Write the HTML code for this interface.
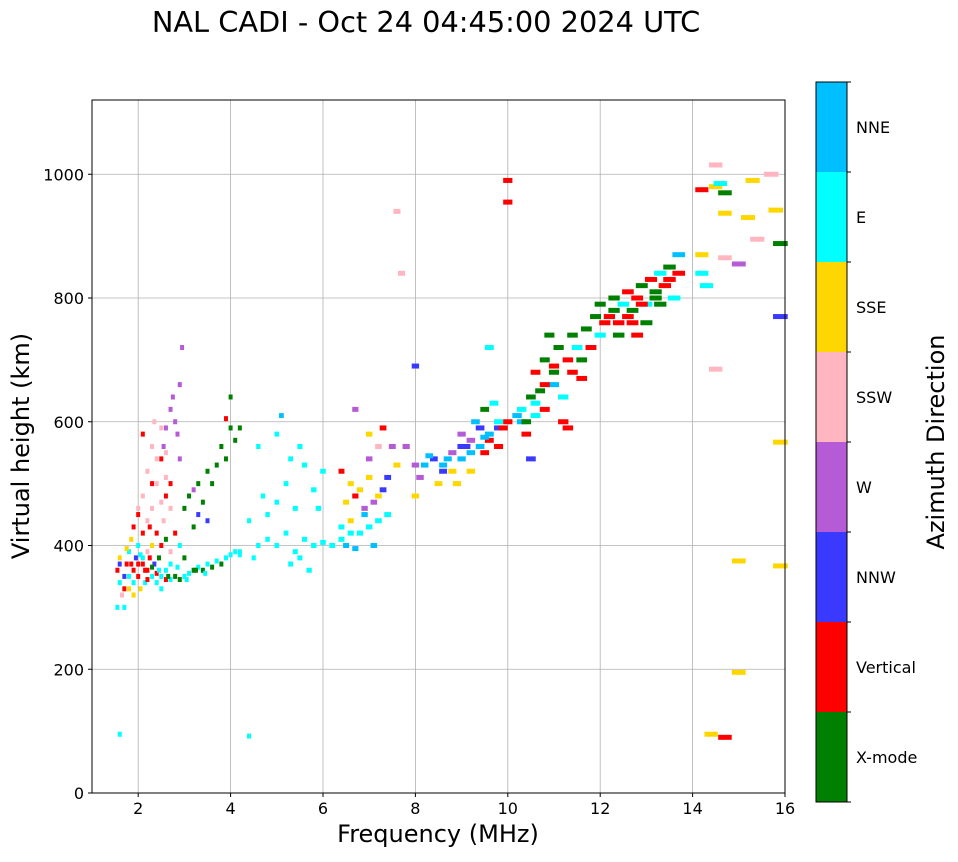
<!DOCTYPE html>
<html><head><meta charset="utf-8"><style>
body{margin:0;background:#fff;font-family:"Liberation Sans","DejaVu Sans",sans-serif;}
svg text{font-family:"DejaVu Sans","Liberation Sans",sans-serif;}
</style></head><body>
<svg id="chart" width="958" height="857" xmlns="http://www.w3.org/2000/svg">
<text x="426" y="32" font-size="28.8" text-anchor="middle">NAL CADI - Oct 24 04:45:00 2024 UTC</text>
<g id="grid"></g>
<g id="marks"></g>
<rect x="92" y="100" width="693" height="693" fill="none" stroke="#000" stroke-width="1"/>
<g id="axes"></g>
<text x="438" y="842" font-size="24" text-anchor="middle">Frequency (MHz)</text>
<text transform="translate(29,446) rotate(-90)" font-size="24" text-anchor="middle">Virtual height (km)</text>
<g id="cbar"></g>
<text transform="translate(944,442) rotate(-90)" font-size="24" text-anchor="middle">Azimuth Direction</text>
</svg>
<script>
const categories=["X-mode","Vertical","NNW","W","SSW","SSE","E","NNE"];
const catColors=["#008000","#ff0000","#3a3aff","#b55bd6","#ffb6c1","#ffd700","#00ffff","#00bfff"];
const xTicks=[2,4,6,8,10,12,14,16];
const yTicks=[0,200,400,600,800,1000];
const freqs=[1.55,1.6,1.6,1.65,1.7,1.55,1.7,1.75,1.8,1.8,1.85,1.9,1.9,1.95,2.0,2.0,2.05,2.1,2.1,2.15,2.2,2.2,2.25,2.3,2.3,2.35,2.4,2.4,2.45,2.5,2.5,2.55,2.6,2.6,2.7,2.7,2.8,2.8,2.9,2.9,3.0,3.0,3.1,3.2,3.3,3.4,3.5,3.6,3.7,3.8,3.9,4.0,4.1,4.2,
1.6,4.4,
2.1,2.2,2.3,2.3,2.4,2.4,2.5,2.5,2.6,2.2,2.0,2.7,2.6,2.1,2.35,
2.55,2.6,2.7,2.75,2.8,2.85,2.9,2.95,2.9,
2.0,2.3,2.5,1.9,2.6,2.7,
3.0,3.1,3.2,3.3,3.4,3.5,3.6,3.7,3.8,3.9,4.0,4.1,4.2,3.9,4.0,3.3,3.5,3.2,
4.2,4.5,4.6,4.8,5.0,5.2,5.4,5.5,5.6,5.8,6.0,6.2,6.4,6.6,6.8,7.0,7.2,7.4,4.8,5.0,5.2,5.4,5.6,5.8,6.0,5.3,4.6,5.0,5.5,5.1,5.3,5.7,6.5,6.7,7.1,4.4,4.7,5.9,
6.5,6.6,6.8,7.0,7.2,6.9,7.1,7.3,7.4,7.0,7.2,6.4,6.7,7.6,7.8,7.5,6.6,6.4,6.9,7.3,7.0,6.7,7.6,7.7,8.0,
8.0,8.0,8.1,8.2,8.4,8.6,8.8,8.6,8.8,9.0,9.0,9.2,9.2,9.4,9.4,9.6,9.6,9.8,9.8,10.0,9.0,9.2,8.9,9.5,9.7,9.5,9.8,9.3,8.5,9.6,10.0,10.0,
10.3,10.3,10.4,10.5,10.6,10.6,10.7,10.8,10.8,11.0,11.0,11.1,11.2,11.3,11.4,11.2,11.5,11.7,11.8,11.9,12.0,12.0,11.6,10.5,10.9,11.3,
12.2,12.3,12.4,12.5,12.6,12.7,12.8,12.9,13.0,13.1,13.2,13.3,13.4,13.5,13.6,13.7,12.4,12.8,13.0,13.7,14.2,14.2,14.3,
14.2,14.5,14.6,14.7,15.3,15.7,14.7,15.2,15.8,15.4,15.9,14.7,15.0,15.9,14.5,15.9,15.0,15.9,15.0,14.4,14.7,14.5,
1.6,1.7,1.8,1.9,2.0,2.1,2.2,2.3,2.4,2.5,2.6,2.7,1.75,1.85,2.05,2.15,2.25,2.45,2.65,2.85,3.05,3.25,3.45,
8.3,8.7,9.1,9.5,9.9,10.2,10.4,10.6,10.8,11.0,11.4,11.6,12.1,12.3,12.6,12.9,13.2,13.5,13.3,12.7];
const heights=[360,340,380,320,300,300,350,370,330,390,410,360,340,380,350,400,330,370,420,340,390,360,430,350,400,370,340,420,380,350,400,440,360,410,345,390,350,420,345,400,350,380,355,360,365,360,370,365,375,370,380,385,390,385,
95,92,
480,520,460,560,500,540,470,590,510,440,460,460,550,580,600,
560,590,620,640,600,580,660,720,540,
450,500,540,430,480,500,
460,480,430,500,470,520,500,530,560,540,590,570,590,605,640,450,440,490,
390,380,400,410,400,420,390,380,410,400,405,400,410,420,420,430,440,450,450,470,500,460,530,490,520,540,560,580,560,610,370,360,400,395,400,440,480,460,
470,500,490,510,480,460,470,490,510,540,560,520,480,530,560,560,440,430,450,590,580,620,940,840,690,
530,480,510,530,540,530,550,520,520,540,560,550,570,560,590,570,580,590,600,600,580,520,500,620,630,550,560,600,500,720,990,955,
600,620,580,640,610,680,650,700,620,660,690,720,640,700,740,600,720,750,720,770,740,790,670,540,740,590,
770,800,760,790,810,780,800,820,790,830,810,840,820,850,800,840,740,740,760,870,840,870,820,
975,980,985,970,990,1000,937,930,942,895,888,865,855,770,685,567,375,367,195,95,90,1015,
370,330,350,320,370,380,345,365,355,330,345,370,395,370,385,360,380,360,350,365,345,360,355,
545,540,560,575,590,610,600,630,660,680,680,700,760,780,770,790,800,830,790,760];
const modes=[1,6,5,4,6,6,2,1,5,6,5,1,6,2,1,6,5,1,1,6,4,1,1,6,5,2,6,1,0,6,1,4,6,0,6,4,0,1,0,6,6,0,6,0,6,0,6,0,6,0,6,6,6,6,
6,6,
4,4,4,4,4,4,4,4,4,4,4,4,4,1,4,
3,3,3,3,3,3,3,3,3,
1,1,1,1,1,1,
0,0,0,0,0,0,0,0,0,0,0,0,0,1,0,2,2,3,
6,6,6,6,6,6,6,6,6,6,6,6,6,6,6,6,6,6,6,6,6,6,6,6,6,6,6,6,6,7,6,6,7,7,7,6,6,6,
5,5,5,5,5,3,3,2,2,3,4,1,1,5,3,3,5,6,7,1,5,3,4,4,2,
3,5,3,7,2,7,3,2,5,7,2,7,3,7,2,1,7,2,6,1,3,5,5,0,6,1,1,7,5,6,1,1,
7,6,1,0,6,1,0,0,1,7,1,0,6,1,0,1,6,0,1,0,6,0,1,2,0,1,
1,0,1,6,1,0,1,0,6,1,0,6,1,0,6,1,0,1,0,7,6,5,6,
1,5,6,0,5,4,5,5,5,4,0,4,3,2,4,5,5,5,5,5,1,4,
2,1,6,5,1,6,1,0,1,6,1,6,5,1,6,1,1,6,0,6,6,0,6,
7,7,2,7,1,7,0,6,1,0,1,0,1,0,1,1,0,1,0,1];
const NS="http://www.w3.org/2000/svg";
const X0=92,X1=785,Y0=793,Y1=100,FMIN=1,FMAX=16,HMIN=0,HMAX=1120;
const xs=f=>X0+(f-FMIN)/(FMAX-FMIN)*(X1-X0);
const ys=h=>Y0-(h-HMIN)/(HMAX-HMIN)*(Y0-Y1);
function mk(t,a,p){const e=document.createElementNS(NS,t);for(const k in a)e.setAttribute(k,a[k]);p.appendChild(e);return e;}
const grid=document.getElementById('grid'),axes=document.getElementById('axes'),marks=document.getElementById('marks'),cb=document.getElementById('cbar');
xTicks.forEach(v=>{const x=xs(v);
 const g=mk('line',{x1:x,x2:x,y1:Y1,y2:Y0,stroke:'#b0b0b0','stroke-width':0.8},grid);
 
 
 mk('line',{x1:x,x2:x,y1:Y0,y2:Y0+4,stroke:'#000'},axes);
 const t=mk('text',{x:x,y:Y0+21,'font-size':16,'text-anchor':'middle'},axes);t.textContent=v;
 
 
});
yTicks.forEach(v=>{const y=ys(v);
 const g=mk('line',{x1:X0,x2:X1,y1:y,y2:y,stroke:'#b0b0b0','stroke-width':0.8},grid);
 
 
 mk('line',{x1:X0-4,x2:X0,y1:y,y2:y,stroke:'#000'},axes);
 const t=mk('text',{x:X0-8,y:y+6,'font-size':16,'text-anchor':'end'},axes);t.textContent=v;
 
 
});
for(let i=0;i<freqs.length;i++){
 const f=freqs[i],h=heights[i];
 const w=Math.max(4,f*0.02*(X1-X0)/(FMAX-FMIN));
 const r=mk('rect',{x:xs(f)-w/2,y:ys(h)-2.5,width:w,height:5,fill:catColors[modes[i]]},marks);
 
 
}
const CT=82,CB=802,CX=816,CW=31,seg=(CB-CT)/categories.length;
categories.forEach((c,i)=>{
 const y=CB-(i+1)*seg;
 const r=mk('rect',{x:CX,y:y,width:CW,height:seg,fill:catColors[i]},cb);
 
 
 mk('line',{x1:CX+CW,x2:CX+CW+4,y1:y,y2:y,stroke:'#000'},cb);
 const t=mk('text',{x:856,y:y+seg/2+6,'font-size':16},cb);t.textContent=c;
 
 
});
mk('line',{x1:CX+CW,x2:CX+CW+4,y1:CB,y2:CB,stroke:'#000'},cb);
mk('rect',{x:CX,y:CT,width:CW,height:CB-CT,fill:'none',stroke:'#000','stroke-width':1},cb);
</script>
</body></html>
